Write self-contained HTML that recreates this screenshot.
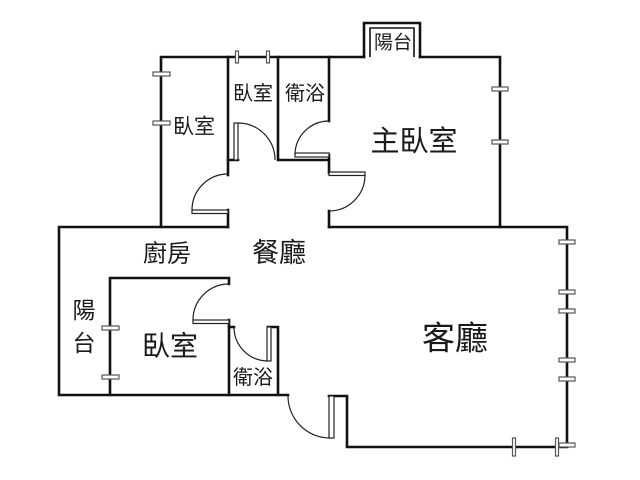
<!DOCTYPE html>
<html><head><meta charset="utf-8"><style>
html,body{margin:0;padding:0;background:#fff;}
svg{display:block;}
text{font-family:"Liberation Sans","Noto Sans CJK TC","Noto Sans CJK SC",sans-serif;fill:#1a1a1a;text-anchor:middle;dominant-baseline:central;}
</style></head><body>
<svg width="640" height="480" viewBox="0 0 640 480" xmlns="http://www.w3.org/2000/svg">
<rect width="640" height="480" fill="#fff"/>
<g fill="none" stroke="#111" stroke-width="2.6" stroke-linecap="square" stroke-linejoin="miter">
<!-- upper block -->
<path d="M161,227 V57 H364"/>
<path d="M420,57 H500 V227"/>
<path d="M228,57 V160 H238"/>
<path d="M278,57 V160 H329"/>
<path d="M329,57 V121"/>
<path d="M329,155 V173"/>
<path d="M228,160 V175"/>
<path d="M228,210 V227"/>
<path d="M329,211 V227"/>
<!-- balcony -->
<path d="M364,57 V23 H420 V57"/>
<!-- living room -->
<path d="M329,227 H567 V447 H347 V396 H329"/>
<!-- kitchen / lower -->
<path d="M228,227 H59 V395 H288"/>
<path d="M110,395 V278 H229 V284"/>
<path d="M229,320 V395"/>
<path d="M229,327 H234"/>
<path d="M268,327 H278 V395"/>
</g>
<!-- balcony inner line -->
<path d="M370,57 V28 H414 V57" fill="none" stroke="#111" stroke-width="1.6"/>
<!-- doors -->
<g fill="#fff" stroke="#222" stroke-width="1.2">
<rect x="234" y="123" width="4" height="37"/>
<rect x="295" y="153" width="34" height="4"/>
<rect x="329" y="172" width="36" height="3.5"/>
<rect x="192" y="210" width="36" height="3.5"/>
<rect x="193" y="320" width="36" height="3.5"/>
<rect x="267" y="327" width="4" height="34"/>
<rect x="329" y="396" width="5" height="42"/>
</g>
<g fill="none" stroke="#222" stroke-width="1.2">
<path d="M238,123 A37,37 0 0 1 275,160"/>
<path d="M329,121 A34,34 0 0 0 295,155"/>
<path d="M365,175 A36,36 0 0 1 329,211"/>
<path d="M228,174 A36,36 0 0 0 192,210"/>
<path d="M229,284 A36,36 0 0 0 193,320"/>
<path d="M234,327 A34,34 0 0 0 268,361"/>
<path d="M288,396 A42,42 0 0 0 330,438"/>
</g>
<!-- windows -->
<g fill="#fff" stroke="#555" stroke-width="1.2">
<rect x="153" y="72" width="17" height="4"/>
<rect x="153" y="121" width="17" height="4"/>
<rect x="492" y="87" width="16" height="4"/>
<rect x="492" y="140" width="16" height="4"/>
<rect x="102" y="326" width="17" height="4"/>
<rect x="102" y="375" width="17" height="4"/>
<rect x="559" y="240" width="16" height="4"/>
<rect x="559" y="290" width="16" height="4"/>
<rect x="559" y="309" width="16" height="4"/>
<rect x="559" y="358" width="16" height="4"/>
<rect x="559" y="377" width="16" height="4"/>
<rect x="559" y="443" width="16" height="4"/>
<rect x="235.5" y="51" width="3" height="12"/>
<rect x="266.5" y="51" width="3" height="12"/>
<rect x="512.5" y="438" width="3" height="18"/>
<rect x="555.5" y="438" width="3" height="18"/>
</g>
<!-- labels -->
<text x="194" y="127" font-size="21">臥室</text>
<text x="253" y="94" font-size="20">臥室</text>
<text x="305" y="94" font-size="20">衛浴</text>
<text x="393" y="43" font-size="19">陽台</text>
<text x="414" y="142" font-size="29">主臥室</text>
<text x="167" y="254" font-size="24">廚房</text>
<text x="279" y="253" font-size="27">餐廳</text>
<text x="84" y="310" font-size="23">陽</text>
<text x="84" y="343" font-size="23">台</text>
<text x="170" y="346" font-size="28">臥室</text>
<text x="253" y="378" font-size="20">衛浴</text>
<text x="455" y="338" font-size="33">客廳</text>
</svg>
</body></html>
